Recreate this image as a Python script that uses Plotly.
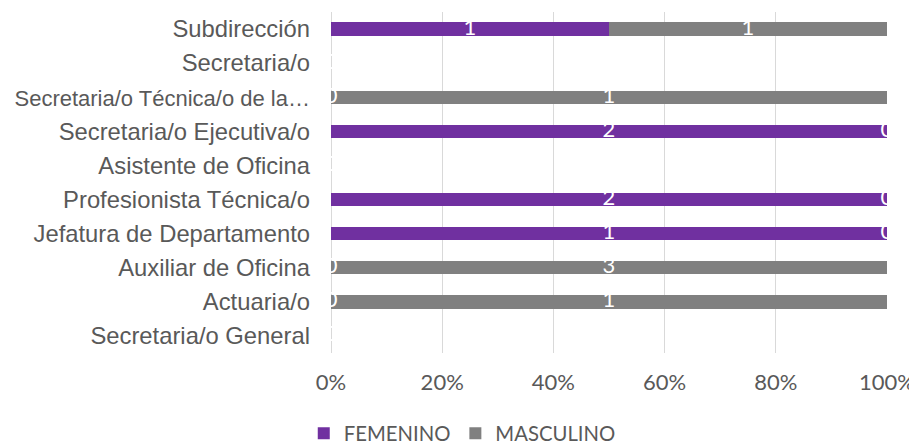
import plotly.graph_objects as go

categories = ["Secretaria/o General", "Actuaria/o", "Auxiliar de Oficina",
              "Jefatura de Departamento", "Profesionista Técnica/o",
              "Asistente de Oficina", "Secretaria/o Ejecutiva/o",
              "Secretaria/o Técnica/o de la…", "Secretaria/o", "Subdirección"]
femenino = [0, 0, 0, 1, 2, 0, 2, 0, 0, 1]
masculino = [0, 1, 3, 0, 0, 0, 0, 1, 0, 1]
x_ticks = [0, 20, 40, 60, 80, 100]
x_ticklabels = ["0%", "20%", "40%", "60%", "80%", "100%"]

totals = [f + m for f, m in zip(femenino, masculino)]
fem_pct = [100 * f / t if t else 0 for f, t in zip(femenino, totals)]
mas_pct = [100 * m / t if t else 0 for m, t in zip(masculino, totals)]

# the truncated long label is set slightly smaller so that it fits the left edge
cat_ticktext = ['<span style="font-size:22px">' + c + '</span>' if c.endswith("…") else c
                for c in categories]

fig = go.Figure()
fig.add_trace(go.Bar(y=categories, x=fem_pct, name="FEMENINO", orientation="h",
                     marker=dict(color="#7030A0", line=dict(width=0)), width=0.39,
                     hoverinfo="skip"))
fig.add_trace(go.Bar(y=categories, x=mas_pct, name="MASCULINO", orientation="h",
                     marker=dict(color="#808080", line=dict(width=0)), width=0.39,
                     hoverinfo="skip"))

# data labels (centered in each segment, like the original)
lab_x, lab_y, lab_t = [], [], []
for c, f, m, fp, mp in zip(categories, femenino, masculino, fem_pct, mas_pct):
    lab_x += [fp / 2, fp + mp / 2]
    lab_y += [c, c]
    lab_t += [str(f), str(m)]
fig.add_trace(go.Scatter(x=lab_x, y=lab_y, text=lab_t, mode="text",
                         textfont=dict(color="white", size=22, family="Lato"),
                         showlegend=False, hoverinfo="skip", cliponaxis=True))

fig.update_layout(
    barmode="stack",
    width=917, height=445,
    margin=dict(l=323, r=38, t=4, b=100, autoexpand=False),
    plot_bgcolor="white", paper_bgcolor="white",
    xaxis=dict(range=[0, 100], tickvals=x_ticks, ticktext=x_ticklabels,
               showgrid=True, gridcolor="#D9D9D9", gridwidth=1.3,
               zeroline=True, zerolinecolor="#D9D9D9", zerolinewidth=1.3,
               showline=False, ticks="", ticklabelstandoff=14, automargin=False,
               tickfont=dict(family="Lato", size=22, color="#595959")),
    yaxis=dict(categoryorder="array", categoryarray=categories,
               tickvals=categories, ticktext=cat_ticktext,
               showgrid=False, showline=False, ticks="", ticklabelstandoff=20,
               automargin=False,
               tickfont=dict(family="Liberation Sans", size=23.8, color="#595959")),
    legend=dict(orientation="h", x=-0.049, xanchor="left", y=-0.236, yanchor="middle",
                font=dict(family="Lato", size=20.3, color="#595959"),
                itemwidth=30, traceorder="normal"),
)

fig.write_html("out.html")
